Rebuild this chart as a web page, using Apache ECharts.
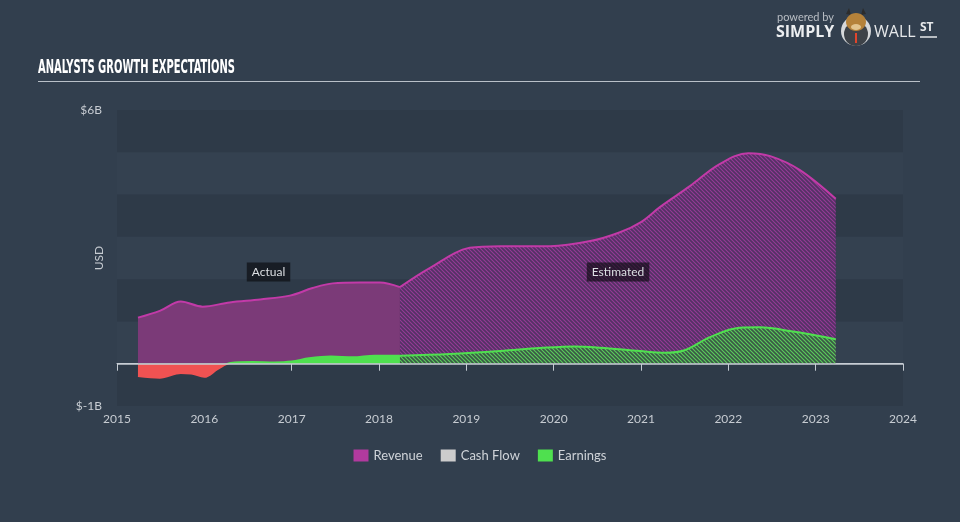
<!DOCTYPE html>
<html>
<head>
<meta charset="utf-8">
<script src="https://cdn.jsdelivr.net/npm/echarts@6/dist/echarts.min.js"></script>
<style>
html,body{margin:0;padding:0;background:#323f4e;}
#chart{width:960px;height:522px;}
</style>
</head>
<body>
<div id="chart"></div>
<script>
// ---- Data (values in billions USD, x in decimal years) ----
const actualDates   = [2015.24, 2015.49, 2015.73, 2015.98, 2016.29, 2016.64, 2016.98, 2017.24, 2017.47, 2017.78, 2018.01, 2018.24];
const revenueActual = [1.09, 1.25, 1.47, 1.35, 1.45, 1.52, 1.61, 1.79, 1.90, 1.92, 1.92, 1.81];
const earningsDates = [2015.24, 2015.49, 2015.73, 2015.85, 2016.0, 2016.15, 2016.3, 2016.55, 2016.8, 2017.0, 2017.2, 2017.45, 2017.7, 2017.95, 2018.24];
const earningsActual= [-0.29, -0.33, -0.22, -0.23, -0.31, -0.13, 0.02, 0.04, 0.03, 0.05, 0.13, 0.17, 0.15, 0.19, 0.19];

const estRevDates   = [2018.24, 2018.58, 2019.04, 2019.39, 2019.96, 2020.42, 2020.76, 2021.0, 2021.22, 2021.56, 2021.90, 2022.23, 2022.48, 2022.82, 2023.23];
const revenueEst    = [1.81, 2.26, 2.74, 2.78, 2.78, 2.90, 3.11, 3.35, 3.71, 4.20, 4.72, 4.98, 4.91, 4.58, 3.90];
const estEarnDates  = [2018.24, 2018.81, 2019.39, 2019.84, 2020.24, 2020.53, 2020.99, 2021.27, 2021.5, 2021.79, 2022.13, 2022.36, 2022.74, 2023.23];
const earningsEst   = [0.19, 0.23, 0.30, 0.37, 0.41, 0.38, 0.30, 0.26, 0.32, 0.63, 0.85, 0.86, 0.76, 0.58];

const cashFlow = [];

const yearTicks = [2015, 2016, 2017, 2018, 2019, 2020, 2021, 2022, 2023, 2024];
const periodLabels = ['Actual', 'Estimated'];
const periodLabelX = [2016.735, 2020.737];
const periodLabelY = 2.17;

// ---- helpers ----
function zip(xs, ys){ return xs.map((x,i)=>[x, ys[i]]); }
function hatch(bg, fg, size, lw){
  const c = document.createElement('canvas');
  c.width = c.height = size;
  const g = c.getContext('2d');
  g.fillStyle = bg; g.fillRect(0,0,size,size);
  g.strokeStyle = fg; g.lineWidth = lw;
  g.beginPath();
  for (let k=-1;k<=1;k++){ g.moveTo(k*size-1,-1); g.lineTo(k*size+size+1,size+1); }
  g.stroke();
  return c;
}
const revHatch = hatch('#533264', '#963b97', 4, 1.1);
const earnHatch = hatch('#3a5846', '#5ccc5c', 4, 1.2);

// title fitting
const titleText = 'ANALYSTS GROWTH EXPECTATIONS';
const titleFont = 'bold 19px "Liberation Sans Narrow", "DejaVu Sans Condensed", sans-serif';
const mc = document.createElement('canvas').getContext('2d');
mc.font = titleFont;
const titleScale = 197 / mc.measureText(titleText).width;

const REV = '#c23aa8', GREEN = '#4fe04f', RED = '#f05252';

const chart = echarts.init(document.getElementById('chart'), null, {renderer:'canvas'});
chart.setOption({
  backgroundColor: '#323f4e',
  animation: false,
  textStyle: { fontFamily: 'Lato, "Open Sans", sans-serif' },
  grid: { left: 117, right: 57, top: 110, bottom: 116 },
  xAxis: {
    type: 'value', min: 2015, max: 2024, interval: 1,
    axisLine: { show: true, lineStyle: { color: '#c3cad2', width: 1 } },
    axisTick: { show: true, length: 7, lineStyle: { color: '#c3cad2' } },
    axisLabel: { color: '#c7ccd2', fontSize: 12, margin: 7, formatter: v => yearTicks.includes(v) ? String(v) : '' },
    splitLine: { show: false }
  },
  yAxis: {
    type: 'value', min: -1, max: 6, interval: 1,
    name: 'USD', nameLocation: 'middle', nameGap: 12, nameRotate: 90, nameMoveOverlap: false,
    nameTextStyle: { color: '#c7ccd2', fontSize: 12 },
    axisLine: { show: false }, axisTick: { show: false },
    axisLabel: { color: '#c7ccd2', fontSize: 12, margin: 15, padding: [0, 0, 5, 0],
      formatter: v => v === 6 ? '$6B' : (v === -1 ? '$-1B' : '') },
    splitLine: { show: false },
    splitArea: { show: true, areaStyle: { color: ['rgba(0,0,0,0.07)', 'rgba(255,255,255,0.012)'] } }
  },
  legend: {
    top: 444, left: 'center', itemWidth: 15, itemHeight: 12, itemGap: 18, icon: 'rect',
    textStyle: { color: '#cfd3d8', fontSize: 13 },
    data: [
      { name: 'Revenue', itemStyle: { color: '#b13a9e' } },
      { name: 'Cash Flow', itemStyle: { color: '#cccccc' } },
      { name: 'Earnings', itemStyle: { color: GREEN } }
    ]
  },
  visualMap: {
    show: false, type: 'piecewise', seriesIndex: 3, dimension: 1,
    pieces: [{ gte: -10, lt: 0, color: RED }, { gte: 0, lte: 10, color: GREEN }],
    outOfRange: { color: GREEN }
  },
  series: [
    {
      name: 'Revenue', type: 'line', color: REV, data: zip(actualDates, revenueActual),
      smooth: 0.35, symbol: 'none', z: 2,
      lineStyle: { color: REV, width: 2 },
      areaStyle: { color: '#7b3a78', opacity: 1 },
      markLine: {
        silent: true, symbol: 'none', label: { show: false },
        lineStyle: { color: '#c9ced4', width: 1.5, type: 'solid' },
        data: [{ yAxis: 0 }]
      },
      markPoint: {
        silent: true, symbol: 'circle', symbolSize: 1, itemStyle: { color: 'rgba(0,0,0,0)' },
        label: { show: true, position: 'inside', color: '#dcdfe3', fontSize: 12,
          backgroundColor: 'rgba(8,8,12,0.62)', padding: [4, 5, 3, 5],
          formatter: p => p.name },
        data: periodLabels.map((n, i) => ({ name: n, coord: [periodLabelX[i], periodLabelY] }))
      }
    },
    {
      name: 'Revenue', type: 'line', color: REV, data: zip(estRevDates, revenueEst),
      smooth: 0.35, symbol: 'none', z: 2,
      lineStyle: { color: REV, width: 2 },
      areaStyle: { color: { image: revHatch, repeat: 'repeat' }, opacity: 1 }
    },
    {
      name: 'Cash Flow', type: 'line', color: '#cccccc', data: cashFlow, symbol: 'none'
    },
    {
      name: 'Earnings', type: 'line', color: GREEN, data: zip(earningsDates, earningsActual),
      smooth: 0.35, symbol: 'none', z: 3,
      lineStyle: { width: 2 },
      areaStyle: { opacity: 1 }
    },
    {
      name: 'Earnings', type: 'line', color: GREEN, data: zip(estEarnDates, earningsEst),
      smooth: 0.35, symbol: 'none', z: 3,
      lineStyle: { color: GREEN, width: 2 },
      areaStyle: { color: { image: earnHatch, repeat: 'repeat' }, opacity: 1 }
    }
  ],
  graphic: [
    { type: 'text', left: 38, top: 59, scaleX: titleScale, originX: 0,
      style: { text: titleText, font: titleFont, fill: '#ffffff' } },
    { type: 'line', shape: { x1: 38, y1: 81.5, x2: 920, y2: 81.5 }, style: { stroke: '#b9c0c8', lineWidth: 1 } },
    // logo
    { type: 'text', left: 777, top: 12, style: { text: 'powered by', font: '11px Lato, sans-serif', fill: '#b9bec4' } },
    { type: 'text', left: 776, top: 24, style: { text: 'SIMPLY', font: 'bold 16px "Open Sans", Lato, sans-serif', fill: '#eceef0' } },
    { type: 'circle', shape: { cx: 856, cy: 31, r: 15 }, style: { fill: '#d6d8da' } },
    { type: 'circle', shape: { cx: 856, cy: 34, r: 12 }, style: { fill: '#3d4248' } },
    { type: 'polygon', shape: { points: [[846,14],[849,8],[851,15]] }, style: { fill: '#2c2c2c' } },
    { type: 'polygon', shape: { points: [[866,14],[863,8],[861,15]] }, style: { fill: '#2c2c2c' } },
    { type: 'ellipse', shape: { cx: 856, cy: 22, rx: 10, ry: 9 }, style: { fill: '#b5823a' } },
    { type: 'ellipse', shape: { cx: 856, cy: 27, rx: 5, ry: 3 }, style: { fill: '#e2c48e' } },
    { type: 'rect', shape: { x: 855, y: 33, width: 2, height: 10 }, style: { fill: '#e0452c' } },
    { type: 'text', left: 874, top: 24, style: { text: 'WALL', font: '16px "Open Sans", Lato, sans-serif', fill: '#e6e8ea' } },
    { type: 'text', left: 920, top: 22, style: { text: 'ST', font: 'bold 12px "Open Sans", Lato, sans-serif', fill: '#e6e8ea' } },
    { type: 'line', shape: { x1: 920, y1: 37, x2: 937, y2: 37 }, style: { stroke: '#e6e8ea', lineWidth: 1.5 } }
  ]
});
</script>
</body>
</html>
